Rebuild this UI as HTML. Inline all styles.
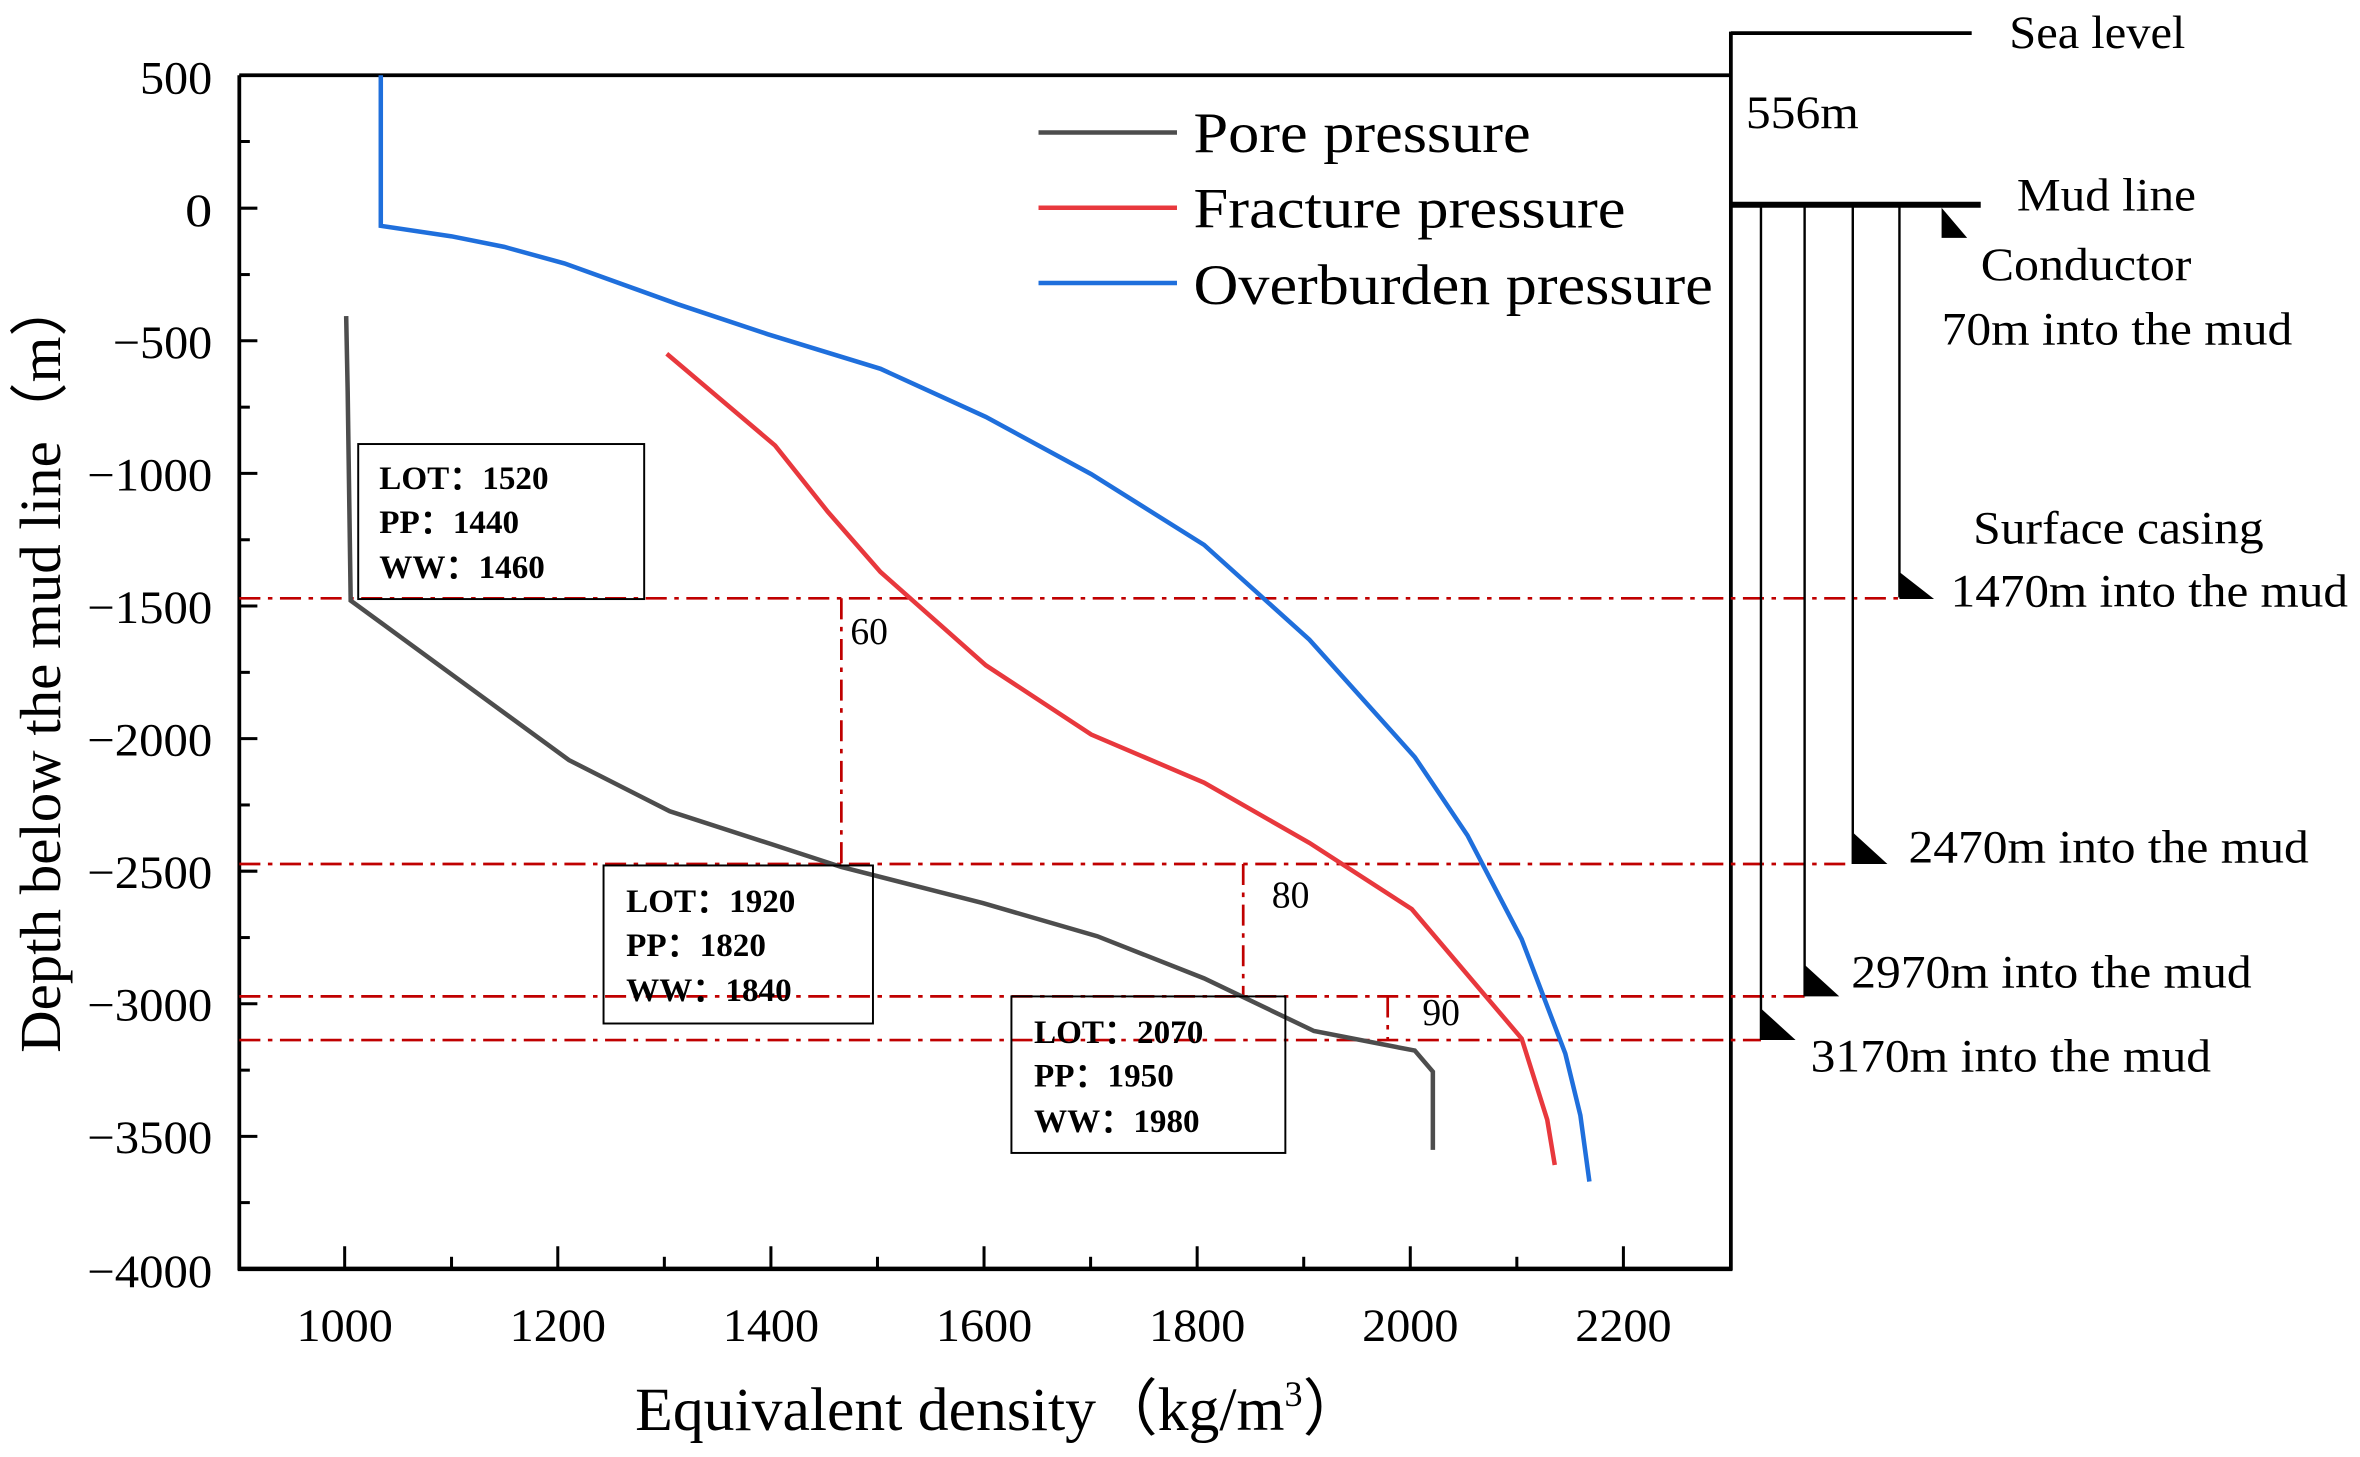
<!DOCTYPE html>
<html><head><meta charset="utf-8"><style>html,body{margin:0;padding:0;background:#fff}svg{display:block}</style></head>
<body>
<svg width="2360" height="1457" viewBox="0 0 1568 968" xmlns="http://www.w3.org/2000/svg" font-family="'Liberation Serif', serif">
<rect width="1568" height="968" fill="#fff"/>
<!-- axes -->
<line x1="159" y1="50" x2="1150" y2="50" stroke="#000" stroke-width="2.5"/>
<line x1="159" y1="50" x2="159" y2="844" stroke="#000" stroke-width="2.5"/>
<line x1="158" y1="843" x2="1151" y2="843" stroke="#000" stroke-width="3"/>
<line x1="1150" y1="21" x2="1150" y2="844" stroke="#000" stroke-width="2.5"/>
<g stroke="#000" stroke-width="2">
<line x1="159" y1="50" x2="171" y2="50"/><line x1="159" y1="94" x2="166" y2="94"/>
<line x1="159" y1="138.3" x2="171" y2="138.3"/><line x1="159" y1="182.4" x2="166" y2="182.4"/>
<line x1="159" y1="226.4" x2="171" y2="226.4"/><line x1="159" y1="270.5" x2="166" y2="270.5"/>
<line x1="159" y1="314.5" x2="171" y2="314.5"/><line x1="159" y1="358.6" x2="166" y2="358.6"/>
<line x1="159" y1="402.6" x2="171" y2="402.6"/><line x1="159" y1="446.7" x2="166" y2="446.7"/>
<line x1="159" y1="490.7" x2="171" y2="490.7"/><line x1="159" y1="534.8" x2="166" y2="534.8"/>
<line x1="159" y1="578.8" x2="171" y2="578.8"/><line x1="159" y1="622.9" x2="166" y2="622.9"/>
<line x1="159" y1="666.9" x2="171" y2="666.9"/><line x1="159" y1="711" x2="166" y2="711"/>
<line x1="159" y1="755" x2="171" y2="755"/><line x1="159" y1="799" x2="166" y2="799"/>
<line x1="229" y1="843" x2="229" y2="828"/><line x1="300" y1="843" x2="300" y2="835"/>
<line x1="370.6" y1="843" x2="370.6" y2="828"/><line x1="441.4" y1="843" x2="441.4" y2="835"/>
<line x1="512.2" y1="843" x2="512.2" y2="828"/><line x1="583" y1="843" x2="583" y2="835"/>
<line x1="653.8" y1="843" x2="653.8" y2="828"/><line x1="724.6" y1="843" x2="724.6" y2="835"/>
<line x1="795.4" y1="843" x2="795.4" y2="828"/><line x1="866.2" y1="843" x2="866.2" y2="835"/>
<line x1="937" y1="843" x2="937" y2="828"/><line x1="1007.8" y1="843" x2="1007.8" y2="835"/>
<line x1="1078.6" y1="843" x2="1078.6" y2="828"/>
</g>
<g font-size="31" text-anchor="end" fill="#000" lengthAdjust="spacingAndGlyphs">
<text x="141" y="62" textLength="48" lengthAdjust="spacingAndGlyphs">500</text>
<text x="141" y="150" textLength="18" lengthAdjust="spacingAndGlyphs">0</text>
<text x="141" y="238" textLength="66" lengthAdjust="spacingAndGlyphs">−500</text>
<text x="141" y="326" textLength="83" lengthAdjust="spacingAndGlyphs">−1000</text>
<text x="141" y="414" textLength="83" lengthAdjust="spacingAndGlyphs">−1500</text>
<text x="141" y="502" textLength="83" lengthAdjust="spacingAndGlyphs">−2000</text>
<text x="141" y="590" textLength="83" lengthAdjust="spacingAndGlyphs">−2500</text>
<text x="141" y="678" textLength="83" lengthAdjust="spacingAndGlyphs">−3000</text>
<text x="141" y="766" textLength="83" lengthAdjust="spacingAndGlyphs">−3500</text>
<text x="141" y="855" textLength="83" lengthAdjust="spacingAndGlyphs">−4000</text>
</g>
<g font-size="31" text-anchor="middle" fill="#000">
<text x="229" y="891" textLength="64" lengthAdjust="spacingAndGlyphs">1000</text>
<text x="370.6" y="891" textLength="64" lengthAdjust="spacingAndGlyphs">1200</text>
<text x="512.2" y="891" textLength="64" lengthAdjust="spacingAndGlyphs">1400</text>
<text x="653.8" y="891" textLength="64" lengthAdjust="spacingAndGlyphs">1600</text>
<text x="795.4" y="891" textLength="64" lengthAdjust="spacingAndGlyphs">1800</text>
<text x="937" y="891" textLength="64" lengthAdjust="spacingAndGlyphs">2000</text>
<text x="1078.6" y="891" textLength="64" lengthAdjust="spacingAndGlyphs">2200</text>
</g>
<text x="422" y="950" font-size="41">Equivalent density（kg/m<tspan font-size="24" dy="-16">3</tspan><tspan dy="16">）</tspan></text>
<text transform="translate(40,442) rotate(-90)" font-size="39" text-anchor="middle" textLength="515" lengthAdjust="spacingAndGlyphs">Depth below the mud line（m）</text>
<!-- dash-dot lines -->
<g stroke="#c00000" stroke-width="1.8" stroke-dasharray="14,5,3,5" fill="none">
<line x1="159" y1="397.5" x2="1262" y2="397.5"/>
<line x1="159" y1="574" x2="1231" y2="574"/>
<line x1="159" y1="662" x2="1199" y2="662"/>
<line x1="159" y1="691" x2="1170" y2="691"/>
<line x1="559" y1="397.5" x2="559" y2="574"/>
<line x1="826" y1="574" x2="826" y2="662"/>
<line x1="922" y1="662" x2="922" y2="691"/>
</g>
<g font-size="25"><text x="565" y="428">60</text><text x="845" y="603">80</text><text x="945" y="681">90</text></g>
<!-- series -->
<polyline fill="none" stroke="#1f6fdc" stroke-width="3" points="253,50 253,150 300,157 335,164 375,175 450,202 510,222 585,245 655,277 725,315 800,362 870,425 940,503 975,555 1011,624 1040,700 1050,741 1056,785"/>
<polyline fill="none" stroke="#e8383d" stroke-width="3" points="443,235 515,296 550,340 585,380 655,442 725,488 800,520 870,560 938,604 1011,690 1028,744 1033,774"/>
<polyline fill="none" stroke="#4d4d4d" stroke-width="3" points="230,210 231,260 233,399 300,448 378,505 445,539 513,561 559,576 653,600 729,622 800,650 873,685 940,698 952,712 952,764"/>
<!-- boxes -->
<g fill="none" stroke="#000" stroke-width="1.3">
<rect x="238" y="295" width="190" height="103"/>
<rect x="401" y="575" width="179" height="105"/>
<rect x="672" y="662" width="182" height="104"/>
</g>
<g font-size="22" font-weight="bold">
<text x="252" y="325">LOT：1520</text><text x="252" y="354">PP：1440</text><text x="252" y="384">WW：1460</text>
<text x="416" y="606">LOT：1920</text><text x="416" y="635">PP：1820</text><text x="416" y="665">WW：1840</text>
<text x="687" y="693">LOT：2070</text><text x="687" y="722">PP：1950</text><text x="687" y="752">WW：1980</text>
</g>
<!-- legend -->
<line x1="690" y1="88" x2="782" y2="88" stroke="#4d4d4d" stroke-width="3"/>
<line x1="690" y1="138" x2="782" y2="138" stroke="#e8383d" stroke-width="3"/>
<line x1="690" y1="188" x2="782" y2="188" stroke="#1f6fdc" stroke-width="3"/>
<g font-size="38">
<text x="793" y="101" textLength="224" lengthAdjust="spacingAndGlyphs">Pore pressure</text>
<text x="793" y="151" textLength="287" lengthAdjust="spacingAndGlyphs">Fracture pressure</text>
<text x="793" y="202" textLength="345" lengthAdjust="spacingAndGlyphs">Overburden pressure</text>
</g>
<!-- well schematic -->
<line x1="1150" y1="22" x2="1310" y2="22" stroke="#000" stroke-width="2.5"/>
<line x1="1150" y1="136" x2="1316" y2="136" stroke="#000" stroke-width="4"/>
<g stroke="#000" stroke-width="1.6">
<line x1="1170" y1="136" x2="1170" y2="691"/>
<line x1="1199" y1="136" x2="1199" y2="662"/>
<line x1="1231" y1="136" x2="1231" y2="574"/>
<line x1="1262" y1="136" x2="1262" y2="397"/>
</g>
<g fill="#000">
<polygon points="1290,138 1290,158 1307,158"/>
<polygon points="1262,380 1262,398 1285,398"/>
<polygon points="1231,553 1231,574 1254,574"/>
<polygon points="1199,641 1199,662 1222,662"/>
<polygon points="1170,670 1170,691 1193,691"/>
</g>
<g font-size="31">
<text x="1335" y="32" textLength="117" lengthAdjust="spacingAndGlyphs">Sea level</text>
<text x="1160" y="85" textLength="75" lengthAdjust="spacingAndGlyphs">556m</text>
<text x="1340" y="140" textLength="119" lengthAdjust="spacingAndGlyphs">Mud line</text>
<text x="1316" y="186" textLength="140" lengthAdjust="spacingAndGlyphs">Conductor</text>
<text x="1290" y="229" textLength="233" lengthAdjust="spacingAndGlyphs">70m into the mud</text>
<text x="1311" y="361" textLength="193" lengthAdjust="spacingAndGlyphs">Surface casing</text>
<text x="1296" y="403" textLength="264" lengthAdjust="spacingAndGlyphs">1470m into the mud</text>
<text x="1268" y="573" textLength="266" lengthAdjust="spacingAndGlyphs">2470m into the mud</text>
<text x="1230" y="656" textLength="266" lengthAdjust="spacingAndGlyphs">2970m into the mud</text>
<text x="1203" y="712" textLength="266" lengthAdjust="spacingAndGlyphs">3170m into the mud</text>
</g>
</svg>
</body></html>
